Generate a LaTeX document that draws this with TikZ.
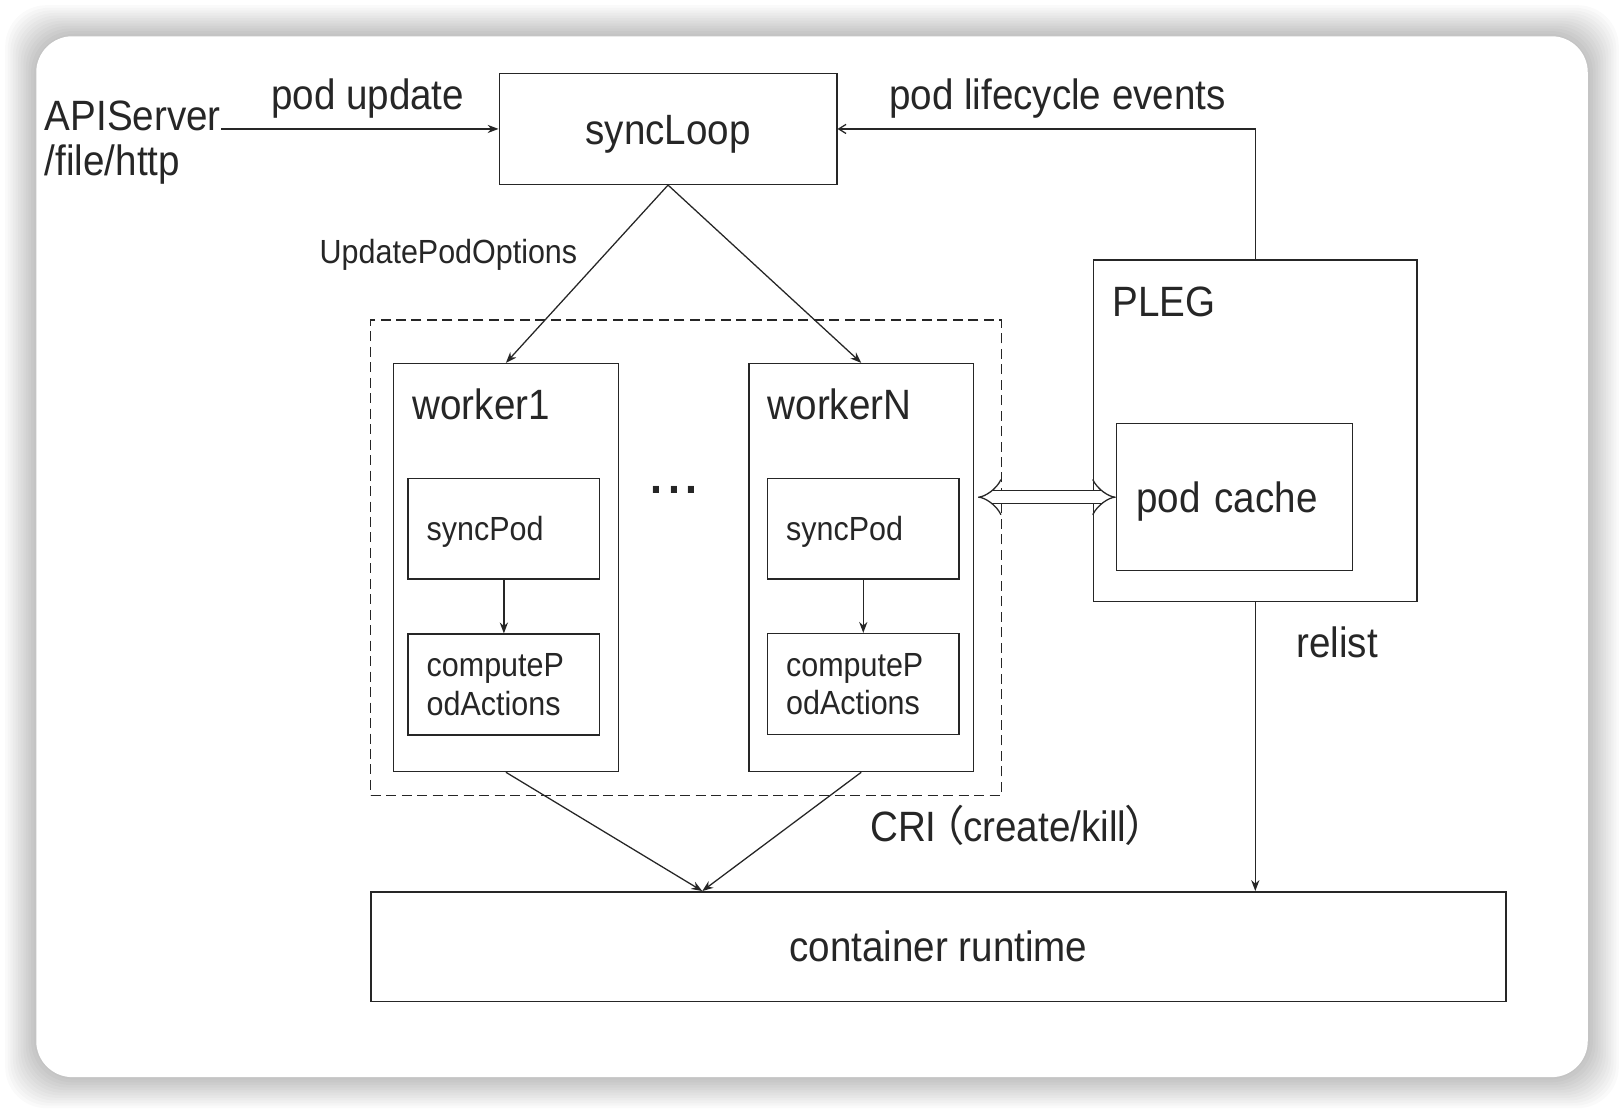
\documentclass[tikz,border=0pt]{standalone}
\usepackage{fontspec}
\setmainfont{Liberation Sans}[FakeStretch=0.91]
\newfontfamily\cjk[RawFeature=+palt]{Noto Sans CJK SC}
\usepackage{xcolor}
\usetikzlibrary{arrows.meta, positioning, calc}
\definecolor{ink}{HTML}{262626}
\newcommand{\bigfont}{\fontsize{23.3}{24.7}\selectfont}
\newcommand{\smallfont}{\fontsize{18.4}{21}\selectfont}
\tikzset{
    box/.style={rectangle, draw=ink, line width=0.8pt, inner sep=0pt},
    bigblock/.style={font=\bigfont, text=ink, inner sep=0pt},
    bigtxt/.style={bigblock, text height=16.8pt, text depth=0pt},
    smalltxt/.style={font=\smallfont, text=ink, inner sep=0pt},
    workerbox/.style={box, minimum width=4.34cm, minimum height=7.88cm},
    podbox/.style={box, smalltxt, minimum width=3.7cm, minimum height=1.95cm, text width=2.98cm, align=left, inner xsep=0.36cm},
    dashbox/.style={draw=ink, line width=0.7pt, dash pattern=on 5.5pt off 3pt},
    arrow/.style={-{Stealth[length=6pt, width=4.5pt]}, line width=0.7pt, draw=ink},
    openarrow/.style={-{Straight Barb[length=4pt, width=5pt]}, line width=0.7pt, draw=ink},
    dblarrow/.style={{Implies}-{Implies}, double=white, double distance=6.5pt, line width=0.7pt, draw=ink},
}
\begin{document}
\begin{tikzpicture}[x=0.02cm, y=-0.02cm]
        \useasboundingbox (0,0) rectangle (1568,1075.6);
        % Card with shadow
        \fill[white] (0,0) rectangle (1568,1075.6);
        \foreach \s in {1,...,12}
            \fill[black, opacity=0.018, rounded corners=0.8cm] ({35-\s*2.5},{35-\s*2.5}) rectangle ({1533+\s*2.5},{1040+\s*2.5});
        \fill[white, rounded corners=0.7cm] (35,35) rectangle (1533,1040);

        % Nodes
        \node [box, bigtxt, minimum width=6.52cm, minimum height=2.14cm] (sync) at (645,124.5) {syncLoop};
        \node [bigblock, align=left, anchor=north west] (api) at (43,97) {APIServer\\/file/http};
        \node [bigtxt, anchor=base] (upd) at (355,106) {pod update};
        \node [bigtxt, anchor=base] (evt) at (1021,105.6) {pod lifecycle events};
        \node [smalltxt, anchor=base] (opts) at (433,254) {UpdatePodOptions};

        \node [box, minimum width=6.24cm, minimum height=6.6cm] (pleg) at (1212,416) {};
        \node [bigtxt, anchor=base west] (plegtxt) at (1074,305.8) {PLEG};
        \node [box, bigtxt, minimum width=4.56cm, minimum height=2.84cm, text width=3.8cm, align=left, inner xsep=0.38cm] (cache) at (1192,480) {pod cache};

        \node [dashbox, minimum width=12.18cm, minimum height=9.18cm] (grp) at (662.5,538.5) {};
        \node [workerbox] (w1) at (488.5,548) {};
        \node [workerbox] (wn) at (831.5,548) {};
        \node [bigtxt, anchor=base west] (w1txt) at (398,405) {worker1};
        \node [bigtxt, anchor=base west] (wntxt) at (741,405) {workerN};
        \node [podbox, text height=13.2pt, text depth=0pt] (sp1) at (486.5,510.5) {syncPod};
        \node [podbox] (cp1) at (486.5,661) {computeP\\odActions};
        \node [podbox, text height=13.2pt, text depth=0pt] (spn) at (833.5,510.5) {syncPod};
        \node [podbox] (cpn) at (833.5,660.5) {computeP\\odActions};
        \node [text=ink, inner sep=0pt, font=\fontsize{26}{26}\selectfont\bfseries, anchor=base] (dots) at (651,476) {.\hspace{3pt}.\hspace{3pt}.};

        \node [box, bigtxt, minimum width=21.92cm, minimum height=2.12cm] (cr) at (906,914) {container runtime};
        \coordinate (crin) at ([xshift=-4.56cm]cr.north);
        \node [bigtxt, anchor=base] (cri) at (974,812.7) {CRI\hspace{3pt}{\cjk（}create/kill{\cjk）}};
        \node [bigtxt, anchor=base] (relist) at (1291,634.7) {relist};

        % Edges
        \draw [arrow] (api.east |- sync.west) -- (sync.west);
        \draw [openarrow] (pleg.north) |- (sync.east);
        \draw [arrow] (sync.south) -- (w1.north);
        \draw [arrow] (sync.south) -- (wn.north);
        \draw [arrow] (sp1) -- (cp1);
        \draw [arrow] (spn) -- (cpn);
        \draw [arrow] (w1.south) -- (crin);
        \draw [arrow] (wn.south) -- (crin);
        \draw [arrow] (pleg.south) -- (pleg.south |- cr.north);
        \draw [dblarrow, shorten <=2pt] (wn.east |- cache.west) -- (cache.west);
    \end{tikzpicture}
\end{document}
